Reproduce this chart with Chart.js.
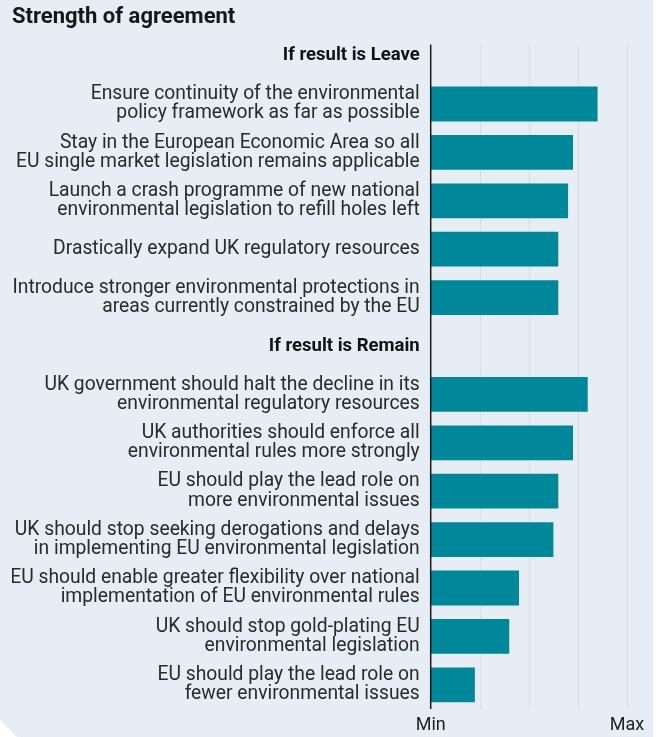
<!DOCTYPE html>
<html>
<head>
<meta charset="utf-8">
<title>Strength of agreement</title>
<script src="https://cdn.jsdelivr.net/npm/chart.js@4/dist/chart.umd.min.js"></script>
<style>
  html, body { margin: 0; padding: 0; background: #ffffff; }
  #wrap { width: 661px; height: 737px; }
</style>
</head>
<body>
<div id="wrap"><canvas id="chart" width="661" height="737"></canvas></div>
<script>
// Group headings shown as bold rows in the category axis
const groupHeadings = ['If result is Leave', 'If result is Remain'];

// Proposals if the result is Leave (two-line labels)
const leaveLabels = [
  ['Ensure continuity of the environmental', 'policy framework as far as possible'],
  ['Stay in the European Economic Area so all', 'EU single market legislation remains applicable'],
  ['Launch a crash programme of new national', 'environmental legislation to refill holes left'],
  'Drastically expand UK regulatory resources',
  ['Introduce stronger environmental protections in', 'areas currently constrained by the EU']
];
const leaveValues = [3.4, 2.9, 2.8, 2.6, 2.6];

// Proposals if the result is Remain
const remainLabels = [
  ['UK government should halt the decline in its', 'environmental regulatory resources'],
  ['UK authorities should enforce all', 'environmental rules more strongly'],
  ['EU should play the lead role on', 'more environmental issues'],
  ['UK should stop seeking derogations and delays', 'in implementing EU environmental legislation'],
  ['EU should enable greater flexibility over national', 'implementation of EU environmental rules'],
  ['UK should stop gold-plating EU', 'environmental legislation'],
  ['EU should play the lead role on', 'fewer environmental issues']
];
const remainValues = [3.2, 2.9, 2.6, 2.5, 1.8, 1.6, 0.9];

// Agreement scale: 0 = Min, 4 = Max
const scaleEnds = ['Min', 'Max'];
const scaleMin = 0;
const scaleMax = 4;

// Assemble the category list with a heading row (no bar) before each group
const categories = [groupHeadings[0], ...leaveLabels, groupHeadings[1], ...remainLabels];
const agreement = [null, ...leaveValues, null, ...remainValues];
const headingRows = [0, 1 + leaveLabels.length];

const FONT = 'Roboto, "Liberation Sans", Arial, sans-serif';
const PANEL = '#e6edf4';

// Panel background with the clipped lower-left corner
const panelBackground = {
  id: 'panelBackground',
  beforeDraw(chart) {
    const ctx = chart.ctx;
    ctx.save();
    ctx.fillStyle = PANEL;
    ctx.beginPath();
    ctx.moveTo(0, 0);
    ctx.lineTo(653, 0);
    ctx.lineTo(653, chart.height);
    ctx.lineTo(17, chart.height);
    ctx.lineTo(0, chart.height - 17);
    ctx.closePath();
    ctx.fill();
    ctx.restore();
  }
};

// Vertical gridlines and the zero axis, starting just below the first heading
const valueGrid = {
  id: 'valueGrid',
  beforeDatasetsDraw(chart) {
    const ctx = chart.ctx;
    const x = chart.scales.x;
    const area = chart.chartArea;
    const top = area.top + 13;
    ctx.save();
    x.ticks.forEach(t => {
      if (t.value === scaleMin) return;
      const px = Math.round(x.getPixelForValue(t.value)) + 0.5;
      ctx.strokeStyle = '#d7dde3';
      ctx.lineWidth = 1;
      ctx.beginPath();
      ctx.moveTo(px, top);
      ctx.lineTo(px, area.bottom);
      ctx.stroke();
    });
    ctx.restore();
  },
  afterDatasetsDraw(chart) {
    const ctx = chart.ctx;
    const x = chart.scales.x;
    const area = chart.chartArea;
    const px = x.getPixelForValue(scaleMin);
    ctx.save();
    ctx.strokeStyle = '#1b1b1b';
    ctx.lineWidth = 1.5;
    ctx.beginPath();
    ctx.moveTo(px, area.top + 13);
    ctx.lineTo(px, area.bottom);
    ctx.stroke();
    ctx.restore();
  }
};

new Chart(document.getElementById('chart'), {
  type: 'bar',
  data: {
    labels: categories,
    datasets: [{
      data: agreement,
      backgroundColor: '#00889a',
      borderWidth: 0,
      barPercentage: 0.72,
      categoryPercentage: 1
    }]
  },
  plugins: [panelBackground, valueGrid],
  options: {
    indexAxis: 'y',
    responsive: false,
    animation: false,
    layout: { padding: { left: 12, right: 34, top: 0, bottom: 0 } },
    plugins: {
      legend: { display: false },
      tooltip: { enabled: false },
      title: {
        display: true,
        text: 'Strength of agreement',
        align: 'start',
        color: '#161616',
        font: { family: FONT, size: 22, weight: 'bold', lineHeight: 1.2 },
        padding: { top: 4, bottom: 1 }
      }
    },
    scales: {
      x: {
        min: scaleMin,
        max: scaleMax,
        grid: { display: false, drawTicks: false },
        border: { display: false },
        afterBuildTicks(scale) {
          const ticks = [];
          for (let v = scaleMin; v <= scaleMax; v++) ticks.push({ value: v });
          scale.ticks = ticks;
        },
        afterFit(scale) { scale.height = 28; },
        ticks: {
          padding: 6,
          maxRotation: 0,
          autoSkip: false,
          color: '#1e1e1e',
          font: { family: FONT, size: 18 },
          callback: v => v === scaleMin ? scaleEnds[0] : (v === scaleMax ? scaleEnds[1] : '')
        }
      },
      y: {
        grid: { display: false, drawTicks: false },
        border: { display: false },
        afterFit(scale) { scale.width = 430.7 - 12; },
        ticks: {
          padding: 11,
          autoSkip: false,
          color: ctx => headingRows.includes(ctx.index) ? '#111111' : '#2a2a2a',
          font: ctx => headingRows.includes(ctx.index)
            ? { family: FONT, size: 18.5, lineHeight: 1.05, weight: 'bold' }
            : { family: FONT, size: 19.3, lineHeight: 1.0, weight: 'normal' }
        }
      }
    }
  }
});
</script>
</body>
</html>
